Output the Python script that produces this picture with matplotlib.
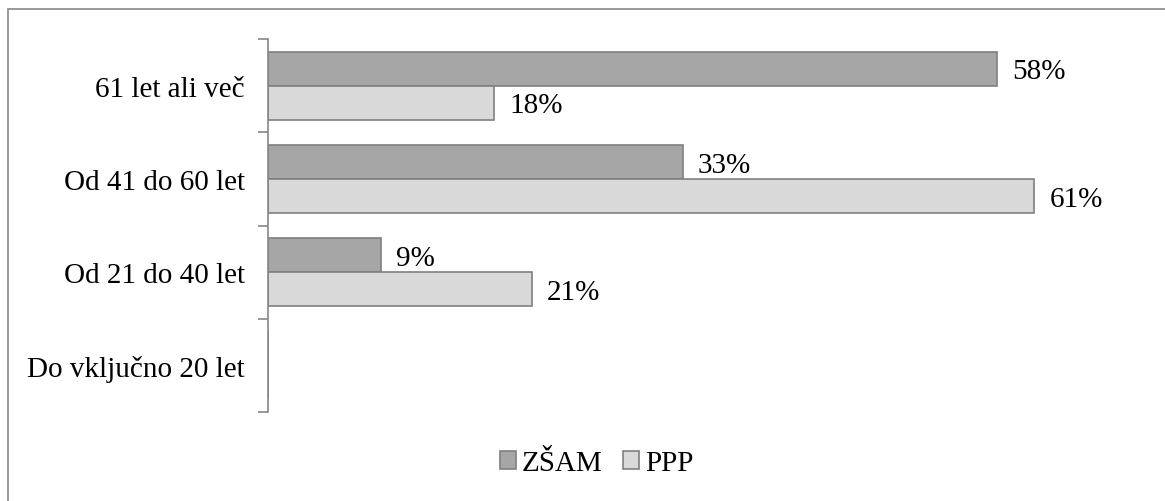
import matplotlib.pyplot as plt
import numpy as np
from matplotlib.patches import Rectangle

plt.rcParams['font.family'] = ['Liberation Serif', 'DejaVu Serif']

# data
categories = ['Do vključno 20 let', 'Od 21 do 40 let', 'Od 41 do 60 let', '61 let ali več']
zsam = [0, 9, 33, 58]
ppp = [0, 21, 61, 18]
series_names = ['ZŠAM', 'PPP']

fig = plt.figure(figsize=(11.65, 5.02), dpi=100)
ax = fig.add_axes([0.230, 0.1773, 0.755, 0.743])

y = np.arange(len(categories))
h = 0.365
edge = '#7f7f7f'
b1 = ax.barh(y + h / 2, zsam, height=h, color='#a6a6a6', edgecolor=edge, linewidth=1.2, label=series_names[0])
b2 = ax.barh(y - h / 2, ppp, height=h, color='#d9d9d9', edgecolor=edge, linewidth=1.2, label=series_names[1])

# value labels
for bars, vals in ((b1, zsam), (b2, ppp)):
    for bar, v in zip(bars, vals):
        if v > 0:
            ax.text(v + 1.2, bar.get_y() + bar.get_height() / 2 - 0.03, f'{v}%',
                    va='center', ha='left', fontsize=21)

ax.set_xlim(0, 70)
ax.set_ylim(-0.5, len(categories) - 0.5)

for s in ['top', 'right', 'bottom']:
    ax.spines[s].set_visible(False)
ax.spines['left'].set_color('#868686')
ax.spines['left'].set_linewidth(1.2)
ax.set_xticks([])

ax.set_yticks(np.arange(-0.5, len(categories), 1))
ax.set_yticklabels([])
ax.tick_params(axis='y', which='major', length=7, color='#868686', width=1.2)
ax.set_yticks(y, minor=True)
ax.set_yticklabels(categories, minor=True, fontsize=21)
ax.tick_params(axis='y', which='minor', length=0, pad=16.5)

fig.legend(handles=[b1, b2], loc='center', bbox_to_anchor=(0.512, 0.075), ncol=2,
           frameon=False, fontsize=21, handlelength=0.55, handleheight=0.55,
           handletextpad=0.2, columnspacing=0.7)

# outer chart border
fig.patches.append(Rectangle((8 / 1165, -0.1), 1.2, 1 - 10 / 502 + 0.1, transform=fig.transFigure,
                             fill=False, edgecolor='#868686', linewidth=1.2))

fig.savefig('out.png', dpi=100)
